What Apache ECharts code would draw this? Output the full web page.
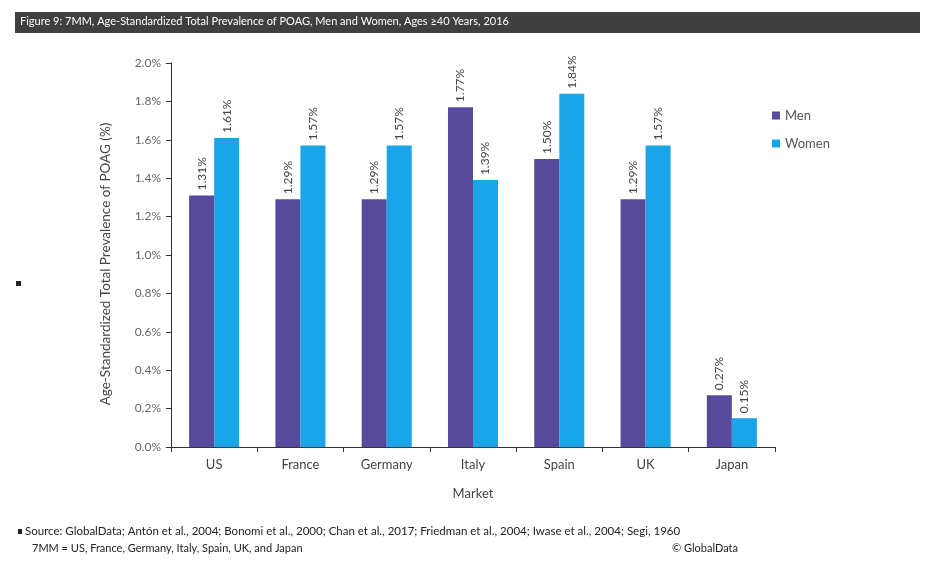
<!DOCTYPE html>
<html><head><meta charset="utf-8">
<script src="https://cdn.jsdelivr.net/npm/echarts@6/dist/echarts.min.js"></script>
<style>html,body{margin:0;padding:0;background:#fff}#c{width:936px;height:574px}</style>
</head><body><div id="c"></div>
<script>
const categories = ['US','France','Germany','Italy','Spain','UK','Japan'];
const menValues = [1.31,1.29,1.29,1.77,1.50,1.29,0.27];
const womenValues = [1.61,1.57,1.57,1.39,1.84,1.57,0.15];
const seriesNames = ['Men','Women'];
const titleText = 'Figure 9: 7MM, Age-Standardized Total Prevalence of POAG, Men and Women, Ages \u226540 Years, 2016';
const sourceText = 'Source: GlobalData; Ant\u00f3n et al., 2004; Bonomi et al., 2000; Chan et al., 2017; Friedman et al., 2004; Iwase et al., 2004; Segi, 1960';
const noteText = '7MM = US, France, Germany, Italy, Spain, UK, and Japan';
const copyText = '\u00a9 GlobalData';

const FONT = 'Lato, "Open Sans", sans-serif';
const chart = echarts.init(document.getElementById('c'));
const lbl = {
  show: true, position: 'top', rotate: 90, align: 'left', verticalAlign: 'middle',
  distance: 5, fontSize: 12, color: '#444', fontFamily: FONT,
  formatter: p => p.value.toFixed(2) + '%'
};
chart.setOption({
  animation: false,
  textStyle: {fontFamily: FONT},
  grid: {left: 171, top: 63, right: 161, bottom: 127, containLabel: false},
  legend: {
    orient: 'vertical', left: 767, top: 104, itemWidth: 8, itemHeight: 8, itemGap: 15,
    icon: 'rect', textStyle: {fontSize: 13, color: '#555', fontFamily: FONT}, data: seriesNames
  },
  xAxis: {
    type: 'category', data: categories,
    name: 'Market', nameLocation: 'middle', nameGap: 40,
    nameTextStyle: {fontSize: 13, color: '#444', fontFamily: FONT},
    axisLine: {lineStyle: {color: '#333', width: 1}},
    axisTick: {show: true, length: 5, lineStyle: {color: '#333'}},
    axisLabel: {fontSize: 13, color: '#444', margin: 11, fontFamily: FONT}
  },
  yAxis: {
    type: 'value', min: 0, max: 2.0, interval: 0.2,
    name: 'Age-Standardized Total Prevalence of POAG (%)', nameLocation: 'middle', nameGap: 58,
    nameTextStyle: {fontSize: 13.5, color: '#444', fontFamily: FONT, padding: [0, 18, 0, 0]},
    axisLine: {show: true, lineStyle: {color: '#333', width: 1}},
    axisTick: {show: true, length: 5, lineStyle: {color: '#333'}},
    splitLine: {show: false},
    axisLabel: {fontSize: 12, color: '#666', margin: 10, fontFamily: FONT, formatter: v => v.toFixed(1) + '%'}
  },
  series: [
    {name: seriesNames[0], type: 'bar', data: menValues, barGap: '0%', barCategoryGap: '42%',
     itemStyle: {color: '#574a9b'}, label: lbl},
    {name: seriesNames[1], type: 'bar', data: womenValues, barGap: '0%', barCategoryGap: '42%',
     itemStyle: {color: '#19a5e8'}, label: lbl}
  ],
  graphic: [
    {type: 'rect', left: 15, top: 12, shape: {width: 905, height: 21}, style: {fill: '#3f3f3f'}},
    {type: 'text', left: 20, top: 16, style: {text: titleText, fill: '#fff', font: '11px ' + FONT}},
    {type: 'rect', left: 16, top: 281, shape: {width: 5, height: 5}, style: {fill: '#222'}},
    {type: 'rect', left: 18, top: 529, shape: {width: 4, height: 5}, style: {fill: '#222'}},
    {type: 'text', left: 25, top: 525, style: {text: sourceText, fill: '#222', font: '11.5px ' + FONT}},
    {type: 'text', left: 32, top: 543, style: {text: noteText, fill: '#222', font: '11px ' + FONT}},
    {type: 'text', left: 672, top: 543, style: {text: copyText, fill: '#222', font: '11px ' + FONT}}
  ]
});
</script></body></html>
